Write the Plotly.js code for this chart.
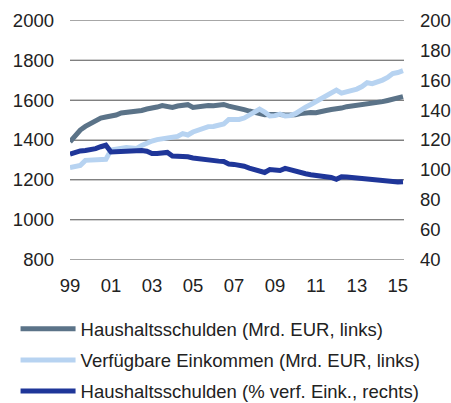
<!DOCTYPE html>
<html>
<head>
<meta charset="utf-8">
<script src="https://cdn.plot.ly/plotly-3.0.1.min.js"></script>
<style>
html,body{margin:0;padding:0;background:#fff;}
#chart{width:451px;height:403px;}
</style>
</head>
<body>
<div id="chart"></div>
<script>
// Quarterly dates (decimal years)
const quarters = [
  1999.0,1999.25,1999.5,1999.75,2000.0,2000.25,2000.5,2000.75,
  2001.0,2001.25,2001.5,2001.75,2002.0,2002.25,2002.5,2002.75,
  2003.0,2003.25,2003.5,2003.75,2004.0,2004.25,2004.5,2004.75,
  2005.0,2005.25,2005.5,2005.75,2006.0,2006.25,2006.5,2006.75,
  2007.0,2007.25,2007.5,2007.75,2008.0,2008.25,2008.5,2008.75,
  2009.0,2009.25,2009.5,2009.75,2010.0,2010.25,2010.5,2010.75,
  2011.0,2011.25,2011.5,2011.75,2012.0,2012.25,2012.5,2012.75,
  2013.0,2013.25,2013.5,2013.75,2014.0,2014.25,2014.5,2014.75,
  2015.0,2015.25
];

// Haushaltsschulden (Mrd. EUR, links)
const debtEUR = [
  1391,1425,1450,1468,1483,1498,1510,1515,
  1518,1525,1535,1537,1540,1542,1548,1555,
  1558,1565,1572,1568,1563,1570,1576,1577,
  1563,1568,1572,1573,1572,1575,1578,1570,
  1562,1555,1552,1545,1540,1530,1527,1528,
  1530,1528,1525,1525,1527,1532,1537,1538,
  1537,1540,1548,1553,1555,1560,1567,1570,
  1573,1578,1580,1585,1588,1592,1598,1603,
  1608,1617
];

// Verfügbare Einkommen (Mrd. EUR, links)
const income = [
  1262,1265,1272,1298,1300,1300,1300,1303,
  1350,1355,1360,1362,1360,1358,1372,1385,
  1395,1402,1405,1410,1415,1418,1432,1425,
  1440,1450,1458,1467,1468,1475,1480,1503,
  1500,1503,1510,1525,1535,1555,1540,1520,
  1522,1530,1520,1522,1532,1550,1565,1578,
  1592,1603,1615,1630,1650,1635,1640,1648,
  1655,1668,1687,1682,1690,1700,1713,1733,
  1738,1747
];

// Haushaltsschulden (% verf. Eink., rechts)
const debtPct = [
  110.5,112,112.7,113,113.2,114.2,115.5,116.5,
  112,112.2,112.6,112.9,113.3,113.6,113,112.5,
  111,111,111.5,111.7,109.3,109.3,109.6,108.8,
  108,107.5,106.8,106.2,106,105.9,105.6,104,
  103.7,103.2,102.5,101.2,100.2,98.5,98.3,100.3,
  99.8,99.6,101,100,98.8,98.3,97.5,96.8,
  96.3,96,95.8,95,93.8,95.5,95.3,94.9,
  94.5,94,93.6,93.5,93.3,93,92.6,92,
  92,92.2
];

const tickYears = [1999,2001,2003,2005,2007,2009,2011,2013,2015];
const tickLabels = ['99','01','03','05','07','09','11','13','15'];
const leftTicks = [800,1000,1200,1400,1600,1800,2000];
const rightTicks = [40,60,80,100,120,140,160,180,200];

const names = [
  'Haushaltsschulden (Mrd. EUR, links)',
  'Verfügbare Einkommen (Mrd. EUR, links)',
  'Haushaltsschulden (% verf. Eink., rechts)'
];
const colors = ['#5b7388','#b7d3f1','#1f3699'];

const traces = [
  {x: quarters, y: debtEUR, name: names[0], yaxis: 'y', legendgroup: 'a'},
  {x: quarters, y: income, name: names[1], yaxis: 'y', legendgroup: 'b'},
  {x: quarters, y: debtPct, name: names[2], yaxis: 'y2', legendgroup: 'c'}
].map((t, i) => Object.assign(t, {
  type: 'scatter', mode: 'lines',
  line: {color: colors[i], width: 5, shape: 'linear'},
  hoverinfo: 'skip'
}));

const font = {family: 'Liberation Sans, Arial, sans-serif', size: 18.5, color: '#222222'};

// horizontal gridlines at the left-axis tick values, placed by the y scale
const gridShapes = leftTicks.map(v => ({
  type: 'line', xref: 'paper', yref: 'y', x0: 0, x1: 1, y0: v, y1: v,
  line: {color: '#808080', width: 1}, layer: 'below'
}));

const layout = {
  width: 451, height: 403,
  margin: {l: 70, r: 47, t: 20, b: 143, pad: 0, autoexpand: false},
  paper_bgcolor: '#ffffff', plot_bgcolor: 'rgba(0,0,0,0)',
  font: font,
  showlegend: true,
  legend: {
    x: -0.163, y: -0.2096, xanchor: 'left', yanchor: 'top',
    bgcolor: 'rgba(0,0,0,0)',
    font: font,
    itemwidth: 55,
    traceorder: 'grouped',
    tracegroupgap: 4
  },
  shapes: gridShapes,
  xaxis: {
    type: 'linear', range: [1999, 2015.3],
    tickmode: 'array', tickvals: tickYears, ticktext: tickLabels,
    showgrid: false, zeroline: false, showline: false,
    ticks: '', ticklabelstandoff: 12,
    tickfont: font, fixedrange: true
  },
  yaxis: {
    range: [799, 2001],
    tickmode: 'array', tickvals: leftTicks,
    showgrid: true, gridcolor: '#808080', gridwidth: 1,
    zeroline: false, showline: false,
    ticks: '', ticklabelstandoff: 15,
    tickfont: font, fixedrange: true
  },
  yaxis2: {
    range: [39.87, 200.13], overlaying: 'y', side: 'right',
    tickmode: 'array', tickvals: rightTicks,
    showgrid: false, zeroline: false, showline: false,
    ticks: '', ticklabelstandoff: 15,
    tickfont: font, fixedrange: true
  }
};

Plotly.newPlot('chart', traces, layout, {displayModeBar: false, staticPlot: true});
</script>
</body>
</html>
